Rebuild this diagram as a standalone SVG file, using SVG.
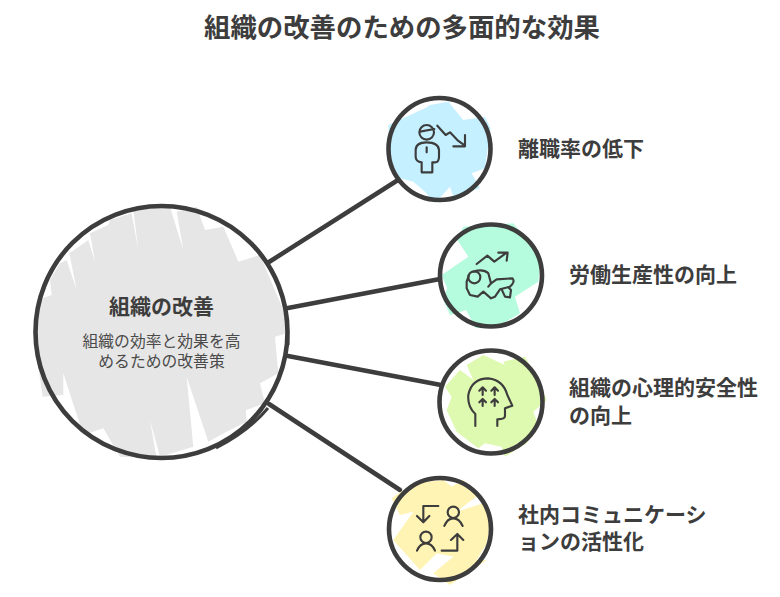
<svg xmlns="http://www.w3.org/2000/svg" width="780" height="597" viewBox="0 0 780 597">
<style>
text{font-family:"Noto Sans CJK JP","Noto Sans",sans-serif;fill:#3d3d3d}
.t{font-size:26.4px;font-weight:700}
.l{font-size:21px;font-weight:700}
.s{font-size:15.8px;font-weight:400;fill:#4a4a4a}
.r{fill:none;stroke:#3d3d3d;stroke-width:4.6}
.i{fill:none;stroke:#3d3d3d;stroke-width:6.4;stroke-linecap:round;stroke-linejoin:round}
.c{fill:none;stroke:#3d3d3d;stroke-width:4.5;stroke-linecap:round}
</style>
<rect width="780" height="597" fill="#fff"/>
<text class="t" x="402" y="37" text-anchor="middle">組織の改善のための多面的な効果</text>
<g id="connectors">
<path class="c" d="M269 262L398 180"/>
<path class="c" d="M288 308L440 279"/>
<path class="c" d="M288 356L441 385"/>
<path class="c" d="M269 404L400 490"/>
</g>
<g id="center">
<polygon transform="translate(20,200) scale(.3333)" fill="#e6e6e6" points="95,285 90,240 120,190 140,180 170,270 148,160 205,120 225,185 210,100 265,75 270,60 335,40 355,150 340,30 450,20 490,150 470,35 530,20 555,90 610,80 655,185 720,165 790,330 800,400 765,410 775,520 720,550 735,610 678,630 680,665 620,695 565,725 500,530 520,740 420,770 390,660 410,775 300,770 250,685 190,705 130,520 130,585 68,590 40,400 50,300"/>
<circle class="r" cx="161.500" cy="332" r="126"/>
<path fill="none" stroke="#3d3d3d" stroke-width="3" d="M216 448Q250 430 268 408M288 345Q288 330 286 318"/>
<text class="l" x="161.500" y="314" text-anchor="middle">組織の改善</text>
<text class="s" x="161.500" y="347" text-anchor="middle">組織の効率と効果を高</text>
<text class="s" x="161.500" y="367" text-anchor="middle">めるための改善策</text>
</g>
<g id="n1">
<polygon transform="translate(370,85) scale(.3333)" fill="#c5f0ff" points="55,120 165,70 180,60 235,50 280,105 345,95 362,130 345,250 305,265 330,310 250,335 240,305 195,355 165,320 130,290 75,275 60,200"/>
<circle class="r" cx="439.500" cy="149" r="51"/>
<g transform="translate(405,115) scale(.3333)" class="i">
<circle cx="65" cy="52" r="22"/><path d="M45 50L88 42M65 97V112"/>
<path d="M50 172H82V142H92Q102 140 102 125V105Q100 82 65 82Q32 82 32 105V125Q32 140 50 142Z"/>
<path d="M97 32L122 60L135 52L160 78L180 92M180 60V94H145"/>
</g>
<text class="l" x="518" y="156">離職率の低下</text>
</g>
<g id="n2">
<polygon transform="translate(370,85) scale(.3333)" fill="#b5fbdd" points="280,425 430,415 512,520 505,590 435,635 450,685 400,715 318,730 288,675 240,690 218,640 232,610 215,570 295,515 262,465"/>
<circle class="r" cx="491" cy="275.500" r="51"/>
<g transform="translate(455,240) scale(.3333)" class="i">
<path d="M65 72L97 47L118 65L155 38M130 38H158L155 62"/>
<circle cx="58" cy="112" r="18"/>
<path d="M55 95Q85 85 100 100L108 130L125 118L172 115Q182 125 165 140L135 148L120 170L108 175L85 155L68 170L45 165L35 145V125L42 105"/>
<path d="M108 130L100 140M140 148L150 170L165 172L168 150L160 142"/>
</g>
<text class="l" x="569" y="282">労働生産性の向上</text>
</g>
<g id="n3">
<polygon transform="translate(370,340) scale(.3333)" fill="#def9b0" points="290,75 340,45 405,75 400,65 465,50 510,130 530,180 490,215 505,255 470,310 405,350 395,320 345,310 325,325 260,275 230,210 245,170 225,140 270,90 310,120"/>
<circle class="r" cx="491" cy="402" r="51.500"/>
<g transform="translate(370,340) scale(.3333)" class="i">
<path d="M316 258V222Q292 200 295 165Q305 115 355 115Q400 120 412 165L427 197L405 205V228Q405 238 382 238V258"/>
<path d="M338 165V143M328 152L338 142L348 152M374 165V143M364 152L374 142L384 152M338 198V178M328 187L338 177L348 187M374 198V178M364 187L374 177L384 187"/>
</g>
<text class="l" x="569" y="395">組織の心理的安全性</text>
<text class="l" x="569" y="423">の向上</text>
</g>
<g id="n4">
<polygon transform="translate(370,340) scale(.3333)" fill="#fff4b3" points="65,475 130,430 220,420 245,440 280,420 325,465 260,515 340,490 365,530 350,610 320,660 350,660 240,735 190,700 250,650 200,640 150,690 70,600 130,515 90,525"/>
<circle class="r" cx="440" cy="529" r="51"/>
<g transform="translate(370,340) scale(.3333)" class="i">
<path d="M205 498H160V545M141 528L160 547L178 528"/>
<path d="M215 632H262V582M243 600L262 582L280 600"/>
<circle cx="250" cy="517" r="17"/><path d="M223 558Q232 535 250 535Q268 535 278 558"/>
<circle cx="168" cy="592" r="17"/><path d="M141 632Q150 610 168 610Q186 610 195 632"/>
</g>
<text class="l" x="518" y="522">社内コミュニケーシ</text>
<text class="l" x="518" y="549">ョンの活性化</text>
</g>
</svg>
